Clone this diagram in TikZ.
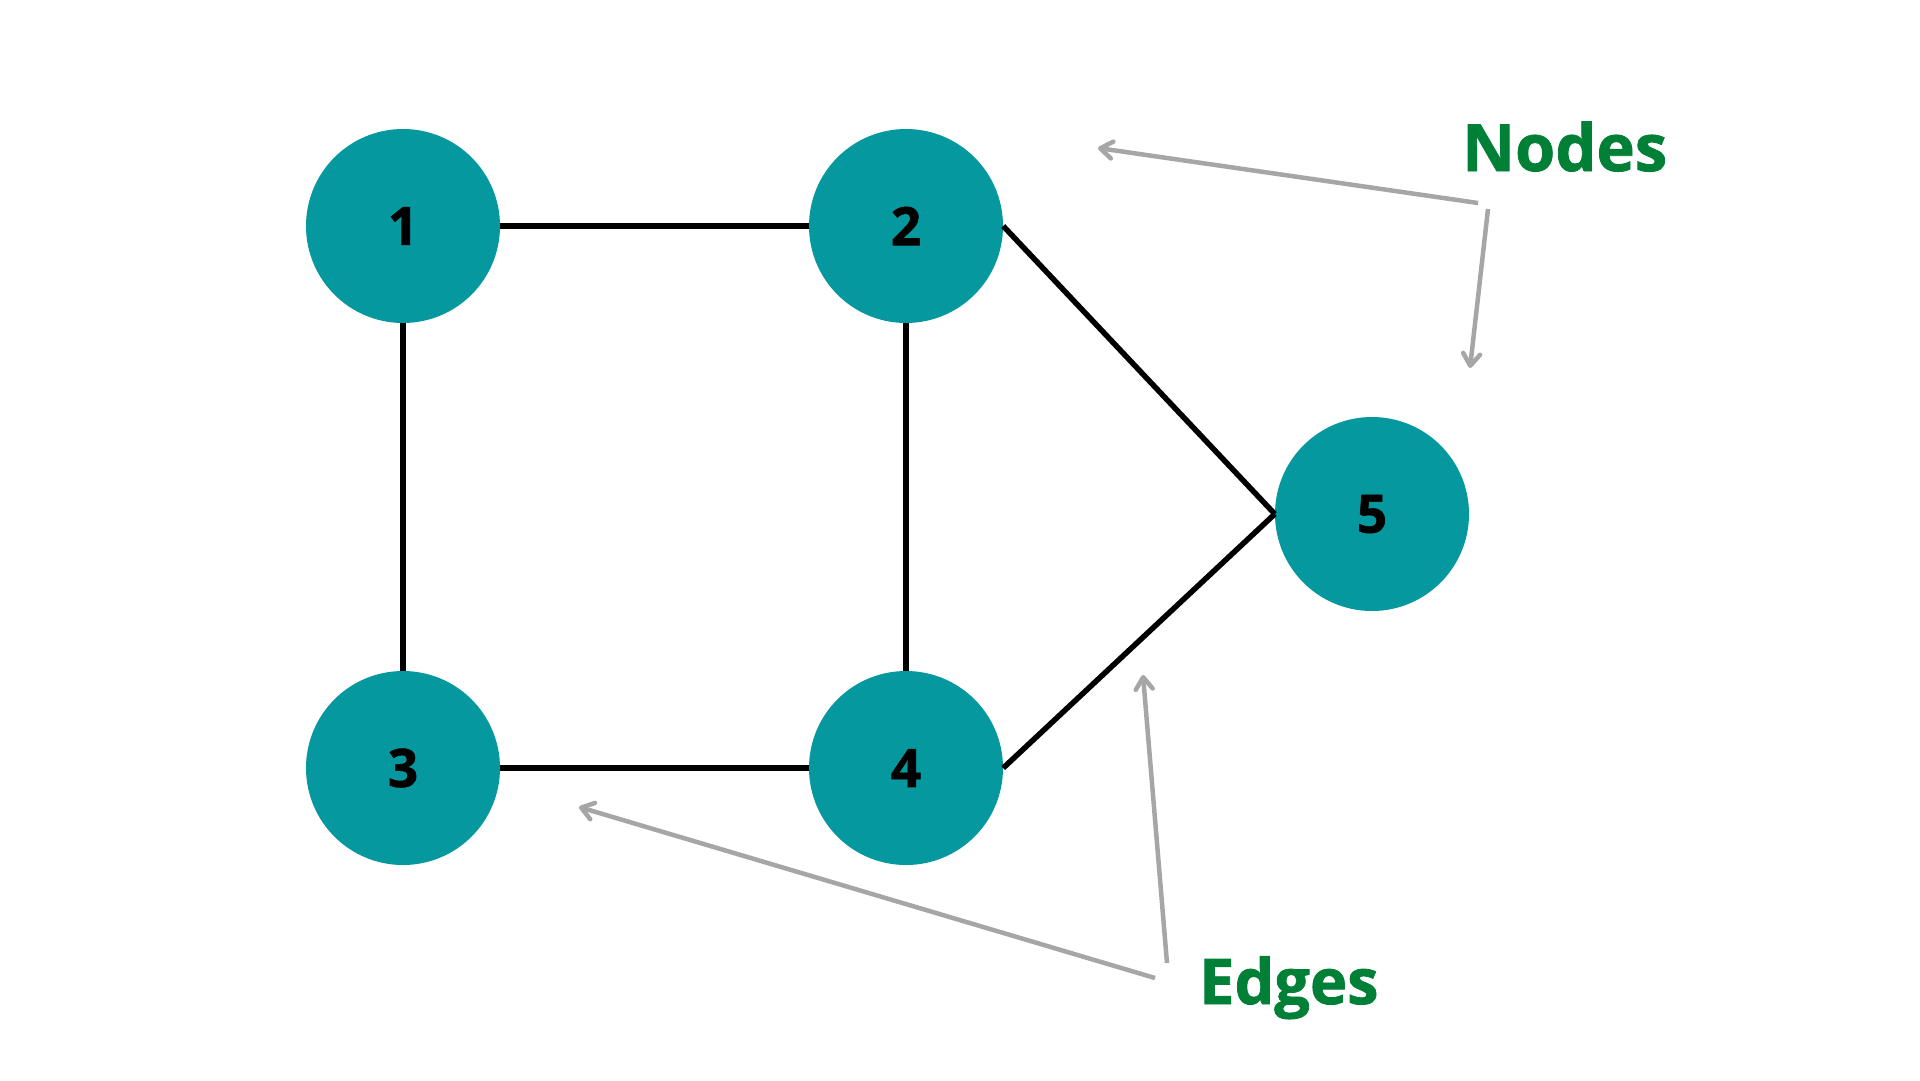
\documentclass[tikz,border=0pt]{standalone}
\usepackage{fontspec}
\setmainfont{Open Sans}
\newfontfamily\heavyfont{Open Sans}[BoldFeatures={FakeBold=1.2}]
\usetikzlibrary{arrows.meta}
\definecolor{tealfill}{HTML}{05989E}
\definecolor{labelgreen}{HTML}{008037}
\definecolor{pointergray}{HTML}{A6A6A6}
\begin{document}
\begin{tikzpicture}[x=1pt,y=-1pt,
  vertex/.style={circle,fill=tealfill,minimum size=194pt,inner sep=0pt,
    font=\heavyfont\fontsize{53}{53}\selectfont\bfseries,text=black},
  link/.style={line width=5.5pt,black},
  pointer/.style={line width=4.5pt,pointergray,
    -{Straight Barb[length=12pt,width=17pt,line cap=round,line join=round]}},
  caption/.style={anchor=base west,text=labelgreen,inner sep=0pt,
    font=\heavyfont\fontsize{65}{65}\selectfont\bfseries}]
  \useasboundingbox (0,0) rectangle (1920,1080);
  \fill[white] (0,0) rectangle (1920,1080);

  % graph vertices
  \node[vertex] (n1) at (403,226) {1};
  \node[vertex] (n2) at (906,226) {2};
  \node[vertex] (n3) at (403,768) {3};
  \node[vertex] (n4) at (906,768) {4};
  \node[vertex] (n5) at (1372,514) {5};

  % graph edges
  \draw[link] (n1) -- (n2);
  \draw[link] (n1) -- (n3);
  \draw[link] (n2) -- (n4);
  \draw[link] (n3) -- (n4);
  \draw[link] (n2.east) -- (n5.west);
  \draw[link] (n4.east) -- (n5.west);

  % annotations
  \node[caption] (lblnodes) at (1462,171) {Nodes};
  \node[caption,font=\heavyfont\fontsize{63}{63}\selectfont\bfseries] (lbledges) at (1199,1004) {Edges};

  \coordinate (pA0) at (1478,203);
  \coordinate (pA1) at (1098,148);
  \coordinate (pB0) at (1488,209);
  \coordinate (pB1) at (1470,368);
  \coordinate (pC0) at (1167,963);
  \coordinate (pC1) at (1143,675);
  \coordinate (pD0) at (1155,978);
  \coordinate (pD1) at (579,807);
  \draw[pointer] (pA0) -- (pA1);
  \draw[pointer] (pB0) -- (pB1);
  \draw[pointer] (pC0) -- (pC1);
  \draw[pointer] (pD0) -- (pD1);
\end{tikzpicture}
\end{document}
